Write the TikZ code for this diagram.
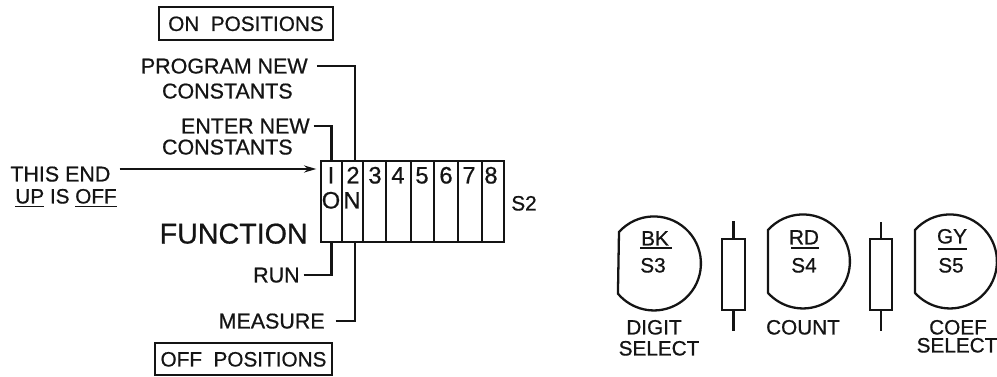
\documentclass[tikz,border=0pt]{standalone}
\usepackage{fontspec}
\setmainfont[FakeBold=0.7]{Liberation Sans}
\usetikzlibrary{arrows.meta, calc}
\definecolor{inkblack}{RGB}{20, 20, 20}
\tikzset{
  lbl/.style={inner sep=0pt, text height=8.5pt, text depth=0pt, text=inkblack, font=\fontsize{12.2}{14}\selectfont},
  numlbl/.style={lbl, font=\fontsize{13.5}{15}\selectfont},
  knoblbl/.style={lbl, font=\fontsize{11.8}{14}\selectfont},
  poslabel/.style={knoblbl, draw=inkblack, line width=1.4pt, inner xsep=1pt, inner ysep=5pt},
  cell/.style={draw=inkblack, line width=1.3pt, inner sep=0pt, minimum height=1.62cm},
  resbox/.style={draw=inkblack, line width=1.2pt, inner sep=0pt, minimum width=0.45cm, minimum height=1.42cm},
  wire/.style={draw=inkblack, line width=1.2pt},
  knob/.style={draw=inkblack, line width=1.3pt}
}

\begin{document}
\begin{tikzpicture}[x=0.02cm, y=-0.02cm]
  \useasboundingbox (0, 0) rectangle (997, 377);

  % Position boxes
  \node[poslabel, minimum width=3.48cm, minimum height=0.66cm] (onpos) at (246, 23.5) {ON\ \ POSITIONS};
  \node[poslabel, minimum width=3.54cm, minimum height=0.64cm] (offpos) at (243.5, 359) {OFF\ \ POSITIONS};

  % Switch cells
  \node[cell, minimum width=0.42cm] (cell1) at (331.5, 201.5) {};
  \node[cell, minimum width=0.42cm] (cell2) at (352.5, 201.5) {};
  \node[cell, minimum width=0.46cm] (cell3) at (374.5, 201.5) {};
  \node[cell, minimum width=0.50cm] (cell4) at (398.5, 201.5) {};
  \node[cell, minimum width=0.46cm] (cell5) at (422.5, 201.5) {};
  \node[cell, minimum width=0.48cm] (cell6) at (446, 201.5) {};
  \node[cell, minimum width=0.48cm] (cell7) at (470, 201.5) {};
  \node[cell, minimum width=0.44cm] (cell8) at (493, 201.5) {};

  % Switch numbers
  \node[numlbl] (num1) at (331, 176) {I};
  \node[numlbl] (num2) at (353, 176) {2};
  \node[numlbl] (num3) at (375, 176) {3};
  \node[numlbl] (num4) at (398, 176) {4};
  \node[numlbl] (num5) at (422, 176) {5};
  \node[numlbl] (num6) at (446, 176) {6};
  \node[numlbl] (num7) at (469, 176) {7};
  \node[numlbl] (num8) at (491, 176) {8};
  \node[numlbl] (ontop) at (331, 201) {O};
  \node[numlbl] (nbot) at (352, 201) {N};
  \node[knoblbl, anchor=west] (stwo) at (511, 203) {S2};

  % Left side labels
  \node[lbl, anchor=east] (programnew) at (308, 66) {PROGRAM NEW};
  \node[lbl, anchor=east] (programcon) at (293, 91) {CONSTANTS};
  \node[lbl, anchor=east] (enternew) at (310, 126) {ENTER NEW};
  \node[lbl, anchor=east] (entercon) at (293, 147) {CONSTANTS};
  \node[lbl, anchor=west] (thisend) at (10, 174) {THIS END};
  \node[knoblbl, anchor=west] (upoff) at (15, 196) {\underline{UP} IS \underline{OFF}};
  \node[lbl, anchor=east, text height=12pt, font=\fontsize{16.3}{20}\selectfont] (function) at (308, 233) {FUNCTION};
  \node[lbl, anchor=east] (run) at (300, 275) {RUN};
  \node[lbl, anchor=east] (measure) at (325, 321) {MEASURE};

  % Connectors
  \draw[wire, shorten <=5pt] (programnew.east) -| ($(cell2.north)+(2.5, 0)$);
  \draw[wire, shorten <=2pt] (enternew.east) -| (cell1.north);
  \draw[wire, shorten <=5pt, shorten >=2pt, -{Stealth[length=7pt, width=4pt]}] (thisend.east |- 0, 169) -- (cell1.west |- 0, 169);
  \draw[wire, shorten <=2pt] (run.east) -| (cell1.south);
  \draw[wire, shorten <=6pt] (measure.east) -| ($(cell2.south)+(2.5, 0)$);

  % S3 knob
  \draw[knob] (619, 232) arc[start angle=-138, end angle=140, radius=47] -- cycle;
  \node[knoblbl] (bk) at (655, 238) {BK};
  \node[knoblbl] (sthree) at (653, 265) {S3};
  \draw[wire] (640, 248) -- (672, 248);
  \node[knoblbl] (digit) at (654, 327) {DIGIT};
  \node[knoblbl] (selecta) at (659, 348) {SELECT};

  % First resistor
  \node[resbox] (resa) at (733.5, 274.5) {};
  \coordinate (resatop) at (733.5, 221);
  \coordinate (resabot) at (733.5, 331);
  \draw[wire] (resa.north) -- (resatop);
  \draw[wire] (resa.south) -- (resabot);

  % S4 knob
  \draw[knob] (768, 230) arc[start angle=-138, end angle=138, radius=47] -- cycle;
  \node[knoblbl] (rd) at (804, 237) {RD};
  \node[knoblbl] (sfour) at (804, 265) {S4};
  \draw[wire] (791, 248) -- (819, 248);
  \node[knoblbl] (count) at (803, 327) {COUNT};

  % Second resistor
  \node[resbox] (resb) at (881, 274.5) {};
  \coordinate (resbtop) at (881, 222);
  \coordinate (resbbot) at (881, 331);
  \draw[wire] (resb.north) -- (resbtop);
  \draw[wire] (resb.south) -- (resbbot);

  % S5 knob
  \draw[knob] (915, 230) arc[start angle=-138, end angle=138, radius=47] -- cycle;
  \node[knoblbl] (gy) at (952, 236) {GY};
  \node[knoblbl] (sfive) at (951, 265) {S5};
  \draw[wire] (938, 249) -- (967, 249);
  \node[knoblbl] (coef) at (958, 327) {COEF};
  \node[knoblbl] (selectb) at (957, 345) {SELECT};
\end{tikzpicture}
\end{document}
